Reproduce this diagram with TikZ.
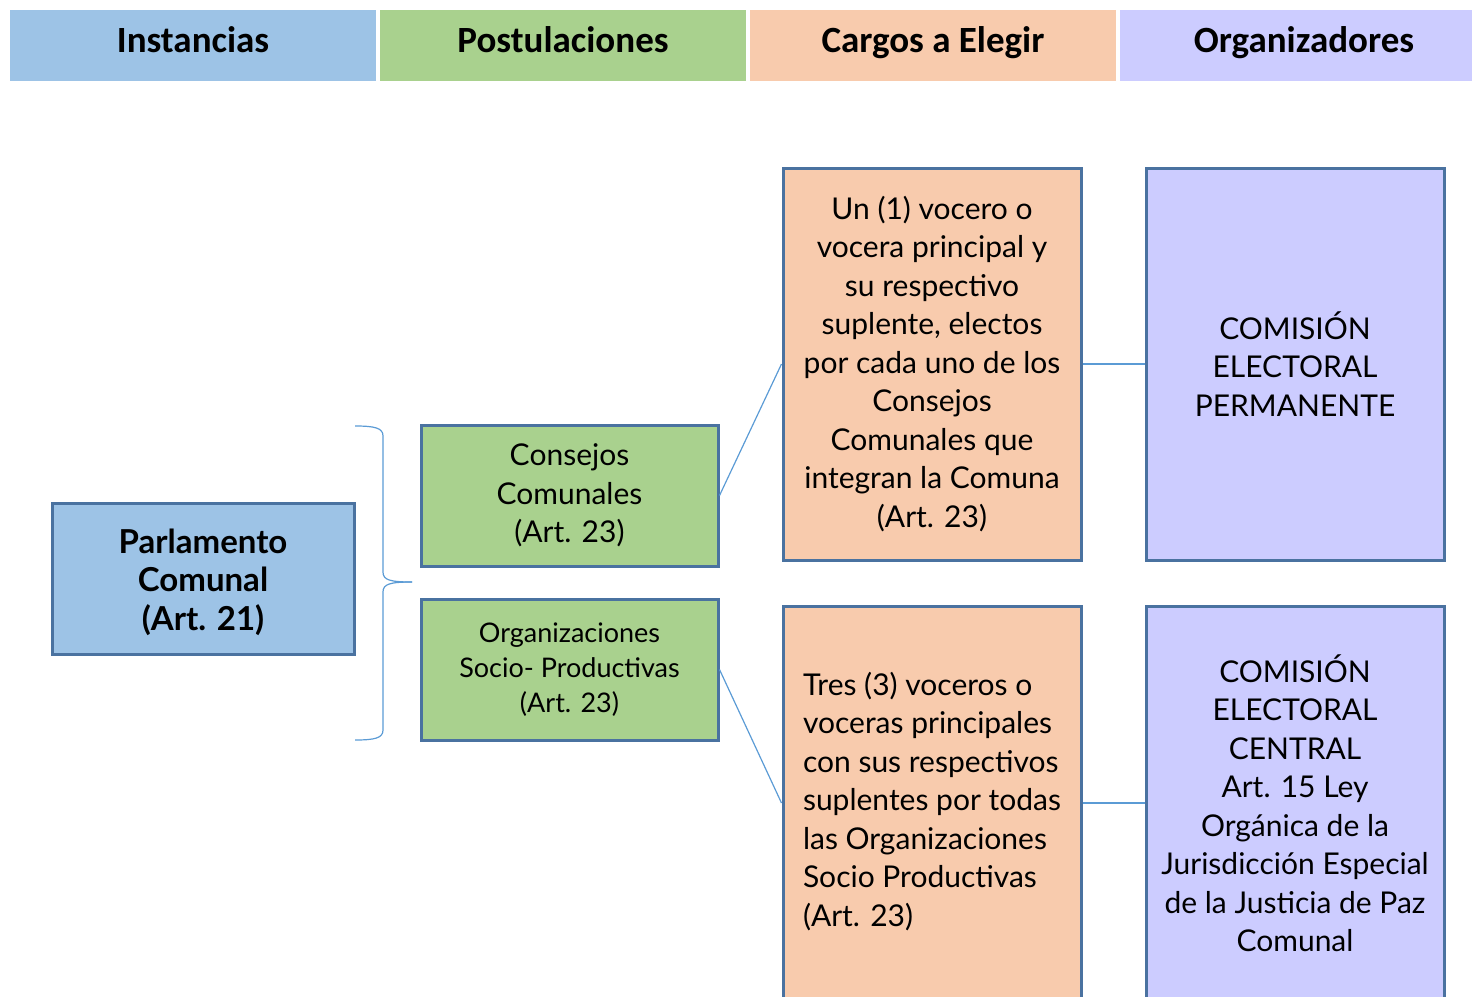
\documentclass[tikz,border=0pt]{standalone}
\usepackage{fontspec}
\setmainfont{Lato}
\newfontfamily\headfont{Carlito}
\definecolor{cblue}{HTML}{9DC3E6}
\definecolor{cgreen}{HTML}{A9D18E}
\definecolor{corange}{HTML}{F8CBAD}
\definecolor{cpurple}{HTML}{CCCCFF}
\definecolor{cborder}{HTML}{4A72A0}
\definecolor{cline}{HTML}{5B9BD5}
\newlength{\unitpx}
\setlength{\unitpx}{0.5pt}
\tikzset{
  head/.style={anchor=base, font=\headfont\bfseries\fontsize{18.5}{22}\selectfont},
  box/.style={draw=cborder, line width=1.5pt, inner sep=0pt, align=center},
  body/.style={font=\fontsize{15}{19.25}\selectfont},
  conn/.style={draw=cline, line width=0.6pt},
}
\begin{document}
\begin{tikzpicture}[x=0.5pt,y=-0.5pt]
\useasboundingbox (0,0) rectangle (1472,996);
\clip (0,0) rectangle (1472,996);
% header bands
\fill[cblue]   (10,10)   rectangle (376,81);
\fill[cgreen]  (380,10)  rectangle (746,81);
\fill[corange] (750,10)  rectangle (1116,81);
\fill[cpurple] (1120,10) rectangle (1472,81);
\node[head] (h1) at (193,52) {Instancias};
\node[head] (h2) at (563,52) {Postulaciones};
\node[head] (h3) at (933,52) {Cargos a Elegir};
\node[head] (h4) at (1304,52) {Organizadores};
% boxes
\node[box, fill=cblue, minimum width=302\unitpx, minimum height=151\unitpx, font=\bfseries\fontsize{16.5}{19.25}\selectfont] (parl) at (203,578.5) {};
\node[font=\bfseries\fontsize{16.5}{19.25}\selectfont, align=center, inner sep=0pt] (parltxt) at (203,582) {Parlamento\\Comunal\\(Art. 21)};
\node[box, fill=cgreen, minimum width=297\unitpx, minimum height=141\unitpx, body] (cc) at (569.5,495.5) {Consejos\\Comunales\\(Art. 23)};
\node[box, fill=cgreen, minimum width=297\unitpx, minimum height=141\unitpx, font=\fontsize{13.5}{17.5}\selectfont] (osp) at (569.5,669.5) {Organizaciones\\Socio- Productivas\\(Art. 23)};
\node[box, fill=corange, minimum width=298\unitpx, minimum height=392\unitpx, body] (o1) at (932,364) {Un (1) vocero o\\vocera principal y\\su respectivo\\suplente, electos\\por cada uno de los\\Consejos\\Comunales que\\integran la Comuna\\(Art. 23)};
\node[box, fill=corange, minimum width=298\unitpx, minimum height=394\unitpx, body] (o2) at (932,803) {\begin{tabular}{@{}l@{}}Tres (3) voceros o\\voceras principales\\con sus respectivos\\suplentes por todas\\las Organizaciones\\Socio Productivas\\(Art. 23)\end{tabular}};
\node[box, fill=cpurple, minimum width=298\unitpx, minimum height=392\unitpx, body] (p1) at (1295,364) {COMISIÓN\\ELECTORAL\\PERMANENTE};
\node[box, fill=cpurple, minimum width=298\unitpx, minimum height=394\unitpx, body] (p2) at (1295,803) {COMISIÓN\\ELECTORAL\\CENTRAL\\Art. 15 Ley\\Orgánica de la\\Jurisdicción Especial\\de la Justicia de Paz\\Comunal};
% brace
\coordinate (bt) at (355,426);
\coordinate (bb) at (355,740);
\coordinate (btip) at (412,582);
\draw[conn] (bt) .. controls (375,426) and (383,428) .. (383,436) -- (383,572) .. controls (383,580) and (390,582) .. (btip);
\draw[conn] (bb) .. controls (375,740) and (383,738) .. (383,730) -- (383,592) .. controls (383,584) and (390,582) .. (btip);
% connectors
\draw[conn] (cc.east) -- (o1.west);
\draw[conn] (osp.east) -- (o2.west);
\draw[conn] (o1.east) -- (p1.west);
\draw[conn] (o2.east) -- (p2.west);
\end{tikzpicture}
\end{document}
